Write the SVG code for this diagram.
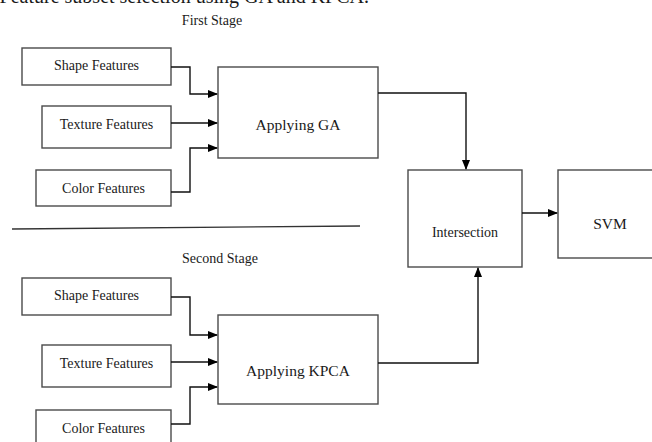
<svg xmlns="http://www.w3.org/2000/svg" width="652" height="442" viewBox="0 0 652 442">
<defs>
<style>
.box{fill:#fff;stroke:#4a4a4a;stroke-width:1.4}
.lbl{font-family:"Liberation Serif","Times New Roman",serif;fill:#1a1a1a;text-anchor:middle}
.f{font-size:14px}
.big{font-size:15.5px}
.conn path,.conn line{fill:none;stroke:#111;stroke-width:1.4}
</style>
<marker id="ah" markerWidth="10" markerHeight="8" refX="9" refY="4" orient="auto" markerUnits="userSpaceOnUse">
<path d="M0,0 L10,4 L0,8 Z" fill="#000"/>
</marker>
</defs>
<rect width="652" height="442" fill="#fff"/>
<text class="lbl" x="369" y="3" style="font-size:20px;text-anchor:end">Feature subset selection using GA and KPCA.</text>
<text class="lbl f" x="212" y="25">First Stage</text>
<text class="lbl f" x="220" y="263">Second Stage</text>
<line x1="12" y1="229" x2="360" y2="226" stroke="#333" stroke-width="1.3"/>

<g id="shape1"><rect class="box" x="22" y="48" width="149" height="37"/><text class="lbl f" x="96.5" y="70">Shape Features</text></g>
<g id="texture1"><rect class="box" x="42" y="106" width="129" height="42"/><text class="lbl f" x="106.5" y="129">Texture Features</text></g>
<g id="color1"><rect class="box" x="36" y="170" width="135" height="36"/><text class="lbl f" x="103.5" y="193">Color Features</text></g>
<g id="ga"><rect class="box" x="218" y="67" width="160" height="91"/><text class="lbl big" x="298" y="130">Applying GA</text></g>

<g id="shape2"><rect class="box" x="22" y="278" width="149" height="37"/><text class="lbl f" x="96.5" y="300">Shape Features</text></g>
<g id="texture2"><rect class="box" x="42" y="345" width="129" height="42"/><text class="lbl f" x="106.5" y="368">Texture Features</text></g>
<g id="color2"><rect class="box" x="36" y="410" width="135" height="40"/><text class="lbl f" x="103.5" y="433">Color Features</text></g>
<g id="kpca"><rect class="box" x="218" y="315" width="160" height="89"/><text class="lbl big" x="298" y="376">Applying KPCA</text></g>

<g id="intersection"><rect class="box" x="408" y="170" width="114" height="97"/><text class="lbl f" x="465" y="237">Intersection</text></g>
<g id="svm"><rect class="box" x="558" y="170" width="100" height="88"/><text class="lbl big" x="610" y="229">SVM</text></g>

<g class="conn">
<path d="M171,67 H190 V94 H217" marker-end="url(#ah)"/>
<path d="M171,123 H217" marker-end="url(#ah)"/>
<path d="M171,192 H190 V148 H217" marker-end="url(#ah)"/>
<path d="M171,297 H190 V335 H217" marker-end="url(#ah)"/>
<path d="M171,362 H217" marker-end="url(#ah)"/>
<path d="M171,424 H190 V387 H217" marker-end="url(#ah)"/>
<path d="M378,93 H466 V169" marker-end="url(#ah)"/>
<path d="M378,363 H478 V268" marker-end="url(#ah)"/>
<path d="M522,213 H557" marker-end="url(#ah)"/>
</g>
</svg>
